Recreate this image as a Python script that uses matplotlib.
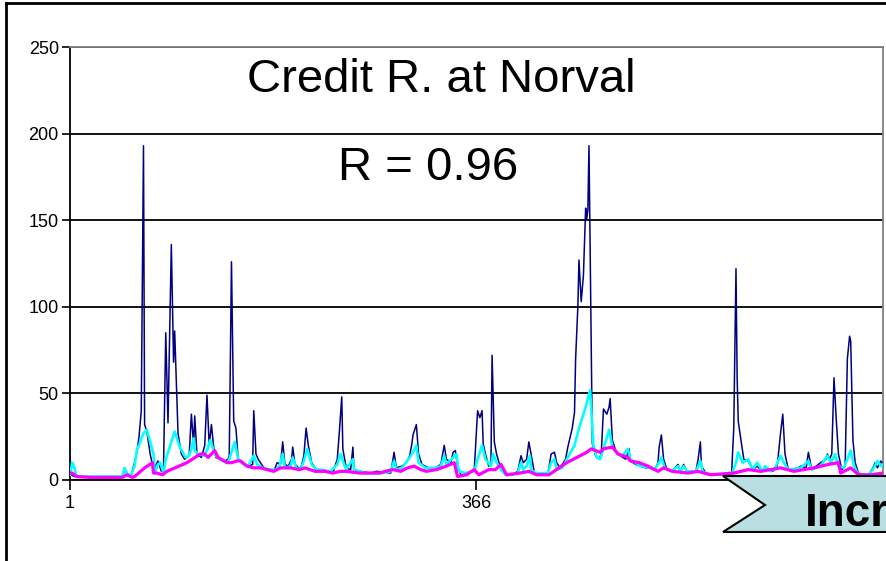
import matplotlib
matplotlib.use("Agg")
import matplotlib.pyplot as plt
from matplotlib.patches import Polygon
from matplotlib.lines import Line2D

plt.rcParams['font.family'] = ['Liberation Sans', 'DejaVu Sans']

# daily record, day 1 .. 731 (two years); vertices
flow_day = [1, 2, 5, 28, 48, 50, 53, 56, 59, 61, 63, 65, 67, 68, 70, 73, 76, 80, 83, 85,
            87, 89, 92, 94, 95, 98, 101, 104, 108, 110, 112, 113, 115, 119, 122, 124, 126, 128, 130, 132,
            136, 140, 143, 144, 146, 148, 150, 152, 157, 161, 165, 166, 168, 170, 174, 177, 181, 184, 187, 190,
            192, 194, 197, 200, 201, 203, 208, 211, 213, 215, 218, 222, 228, 233, 237, 241, 243, 245, 246, 249,
            253, 255, 256, 262, 271, 276, 289, 290, 292, 294, 299, 303, 306, 308, 309, 312, 314, 317, 323, 329,
            334, 337, 339, 343, 345, 347, 349, 352, 357, 361, 364, 367, 369, 371, 372, 374, 377, 379, 380, 382,
            384, 388, 392, 398, 403, 406, 408, 411, 413, 415, 418, 424, 430, 433, 436, 438, 441, 446, 448, 452,
            454, 455, 457, 458, 460, 462, 464, 465, 466, 467, 470, 473, 476, 478, 480, 483, 485, 486, 488, 491,
            495, 500, 503, 504, 509, 513, 518, 522, 526, 529, 530, 532, 534, 537, 541, 547, 549, 552, 555, 558,
            563, 565, 567, 568, 572, 581, 590, 595, 597, 599, 600, 601, 603, 606, 610, 614, 618, 623, 627, 632,
            636, 639, 641, 643, 646, 653, 657, 662, 664, 667, 671, 675, 680, 681, 683, 685, 687, 689, 691, 694,
            697, 699, 701, 702, 704, 706, 709, 713, 718, 722, 724, 726, 729, 731]
flow_val = [15, 3, 2, 1.5, 1.5, 6, 3, 3, 10, 16, 25, 40, 193, 32, 28, 15, 6, 11, 5, 8,
            85, 33, 136, 68, 86, 27, 15, 12, 14, 38, 20, 37, 15, 13, 20, 49, 20, 32, 19, 13,
            12, 11, 12, 14, 126, 34, 30, 12, 9, 8, 9, 40, 15, 12, 8, 6, 6, 5, 10, 9,
            22, 9, 8, 12, 19, 9, 6, 14, 30, 20, 10, 6, 6, 5, 4, 12, 29, 48, 18, 7,
            6, 19, 6, 5, 4, 5, 4, 8, 16, 7, 8, 10, 14, 21, 26, 32, 15, 9, 7, 7,
            9, 20, 12, 10, 16, 17, 8, 3, 3, 5, 6, 40, 36, 40, 21, 15, 8, 10, 72, 22,
            15, 6, 3, 3, 5, 14, 10, 12, 22, 15, 4, 3, 3, 15, 16, 10, 7, 12, 19, 30,
            39, 70, 100, 127, 103, 118, 157, 151, 156, 193, 21, 14, 12, 15, 41, 38, 42, 47, 23, 17,
            14, 12, 18, 11, 9, 8, 7, 7, 6, 10, 19, 26, 12, 6, 5, 9, 5, 9, 5, 4,
            5, 12, 22, 8, 4, 3, 3, 3, 30, 122, 60, 34, 25, 12, 11, 6, 8, 5, 7, 5,
            8, 27, 38, 15, 6, 6, 8, 7, 16, 6, 8, 10, 12, 15, 12, 15, 59, 35, 15, 6,
            8, 70, 83, 80, 23, 10, 4, 3, 3, 7, 10, 7, 11, 9]

fast_day = [1, 3, 4, 7, 48, 50, 53, 56, 59, 61, 64, 67, 70, 73, 76, 77, 80, 82, 85, 87,
            91, 95, 99, 103, 105, 108, 110, 112, 113, 116, 121, 124, 127, 130, 132, 138, 143, 145, 149, 152,
            157, 161, 166, 169, 174, 181, 186, 189, 192, 194, 199, 201, 204, 208, 211, 214, 218, 222, 235, 241,
            244, 246, 249, 255, 256, 266, 280, 289, 292, 294, 299, 305, 309, 312, 314, 320, 329, 334, 337, 339,
            345, 348, 350, 356, 362, 364, 367, 371, 374, 379, 381, 384, 388, 392, 398, 403, 406, 408, 411, 414,
            415, 419, 430, 433, 436, 438, 443, 448, 454, 459, 464, 468, 471, 474, 477, 481, 485, 488, 493, 497,
            502, 504, 513, 522, 526, 530, 532, 535, 541, 547, 549, 552, 555, 563, 567, 569, 576, 595, 599, 601,
            605, 610, 614, 618, 623, 625, 630, 634, 639, 642, 646, 657, 664, 667, 675, 681, 684, 688, 691, 696,
            702, 705, 709, 718, 722, 726, 729, 731]
fast_val = [3, 10, 9, 2, 2, 7, 3, 3, 8, 17, 22, 27, 29, 22, 15, 4, 9, 10, 4, 12,
            20, 28, 20, 15, 13, 14, 18, 24, 17, 15, 14, 17, 23, 17, 14, 11, 10, 14, 22, 12,
            9, 8, 14, 9, 7, 6, 6, 8, 15, 7, 8, 13, 7, 6, 11, 18, 9, 6, 5, 9,
            15, 11, 6, 12, 6, 4, 4, 5, 11, 6, 7, 12, 16, 20, 10, 7, 7, 8, 14, 9,
            13, 15, 5, 4, 5, 5, 12, 20, 12, 8, 15, 10, 6, 3, 3, 4, 10, 6, 8, 14,
            6, 4, 4, 10, 12, 6, 7, 13, 20, 32, 42, 52, 20, 13, 12, 20, 29, 19, 15, 14,
            18, 12, 8, 7, 6, 10, 13, 7, 5, 8, 5, 8, 5, 5, 11, 5, 3, 3, 10, 16,
            10, 12, 6, 10, 5, 8, 5, 7, 14, 10, 6, 7, 11, 6, 8, 14, 10, 15, 8, 7,
            17, 8, 3, 3, 6, 11, 8, 9]

slow_day = [1, 3, 7, 19, 48, 52, 57, 59, 68, 75, 76, 79, 84, 88, 106, 118, 122, 125, 131, 134,
            142, 146, 151, 154, 160, 166, 172, 178, 184, 190, 199, 207, 212, 221, 230, 237, 244, 249, 261, 279,
            284, 291, 298, 304, 310, 316, 321, 330, 339, 346, 349, 357, 364, 368, 377, 383, 388, 393, 405, 413,
            420, 431, 447, 465, 469, 477, 480, 488, 493, 502, 504, 512, 520, 529, 534, 542, 556, 565, 576, 597,
            610, 621, 639, 651, 669, 682, 691, 693, 702, 709, 720, 731]
slow_val = [4, 4, 2, 1.5, 1.5, 3, 1.5, 2, 7, 10, 4, 4, 3, 5, 10, 15, 15, 13, 17, 13,
            10, 10, 11, 11, 8, 7, 7, 6, 5, 7, 7, 6, 7, 5, 5, 4, 5, 5, 4, 4,
            5, 6, 5, 7, 8, 6, 5, 6, 8, 10, 2, 3, 6, 3, 6, 6, 9, 3, 4, 5,
            3, 3, 10, 16, 18, 16, 18, 19, 15, 13, 11, 10, 8, 5, 7, 5, 4, 5, 3, 4,
            6, 5, 7, 5, 7, 9, 10, 4, 7, 3, 3, 4]

x_ticks = [1, 366]
y_ticks = [0, 50, 100, 150, 200, 250]

fig = plt.figure(figsize=(8.87, 5.61), dpi=100)
ax = fig.add_axes([0.0789, 0.1444, 0.9166, 0.7718])

ax.plot(flow_day, flow_val, color='#000080', lw=1.1, zorder=3)
ax.plot(fast_day, fast_val, color='#00FFFF', lw=1.9, zorder=4)
ax.plot(slow_day, slow_val, color='#FF00FF', lw=2.3, zorder=5)

ax.set_xlim(1, 731)
ax.set_ylim(0, 250)
ax.set_xticks(x_ticks)
ax.set_yticks(y_ticks)
ax.yaxis.grid(True, color='black', lw=1.3)
ax.set_axisbelow(True)

for side in ['top', 'right']:
    ax.spines[side].set_color('#808080')
    ax.spines[side].set_linewidth(1.3)
for side in ['left', 'bottom']:
    ax.spines[side].set_color('black')
    ax.spines[side].set_linewidth(1.3)

ax.tick_params(axis='y', direction='out', length=6, width=1.2, pad=2, labelsize=13)
ax.tick_params(axis='x', direction='out', length=7, width=1.2, pad=4, labelsize=13)

fig.text(0.498, 0.857, 'Credit R. at Norval', fontsize=34, ha='center', va='center')
fig.text(0.4825, 0.70, 'R = 0.96', fontsize=34, ha='center', va='center')

# chevron banner, bottom right
chev = Polygon([(723 / 887, 1 - 476 / 561), (1.05, 1 - 476 / 561), (1.05, 1 - 532 / 561),
                (723 / 887, 1 - 532 / 561), (765 / 887, 1 - 505 / 561)],
               closed=True, transform=fig.transFigure, facecolor='#BADFE3',
               edgecolor='black', lw=1.5, zorder=10)
fig.add_artist(chev)
fig.text(805 / 887, 1 - 514 / 561, 'Increasing', fontsize=33, fontweight='bold',
         ha='left', va='center', zorder=11)

# outer frame (only top and left visible in crop)
fig.add_artist(Line2D([6 / 887, 6 / 887], [0, 1 - 3 / 561], color='black', lw=2,
                      transform=fig.transFigure))
fig.add_artist(Line2D([6 / 887, 1], [1 - 3 / 561, 1 - 3 / 561], color='black', lw=2,
                      transform=fig.transFigure))

fig.savefig('out.png', dpi=100)
